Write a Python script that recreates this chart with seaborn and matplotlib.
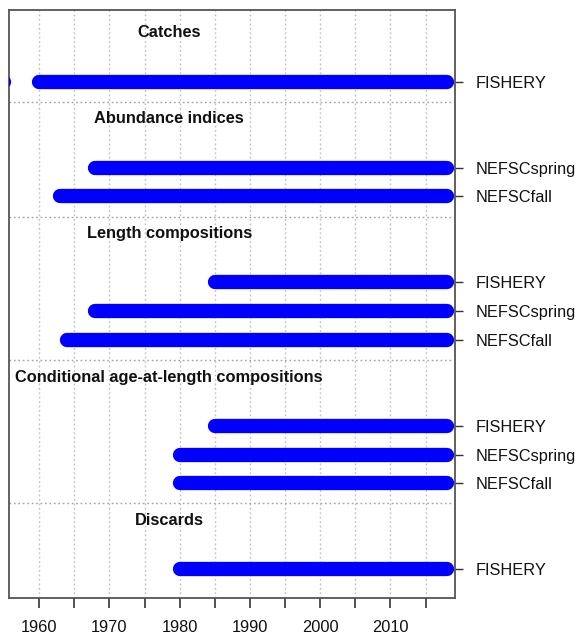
import matplotlib
matplotlib.use("Agg")
import matplotlib.pyplot as plt
import seaborn as sns
import pandas as pd
import numpy as np

# ---- data ----
sections = ["Catches", "Abundance indices", "Length compositions",
            "Conditional age-at-length compositions", "Discards"]
catch_fleets = ["FISHERY"]
catch_segments = [[(1954, 1955), (1960, 2018)]]
index_fleets = ["NEFSCspring", "NEFSCfall"]
index_segments = [[(1968, 2018)], [(1963, 2018)]]
length_fleets = ["FISHERY", "NEFSCspring", "NEFSCfall"]
length_segments = [[(1985, 2018)], [(1968, 2018)], [(1964, 2018)]]
caal_fleets = ["FISHERY", "NEFSCspring", "NEFSCfall"]
caal_segments = [[(1985, 2018)], [(1980, 2018)], [(1980, 2018)]]
discard_fleets = ["FISHERY"]
discard_segments = [[(1980, 2018)]]
tick_years = list(range(1960, 2016, 5))
tick_labels = [str(y) if y % 10 == 0 else "" for y in tick_years]

all_fleets = [catch_fleets, index_fleets, length_fleets, caal_fleets, discard_fleets]
all_segments = [catch_segments, index_segments, length_segments, caal_segments, discard_segments]

# ---- layout ----
sns.set_theme(style="white")
plt.rcParams['font.family'] = ['Liberation Sans', 'DejaVu Sans']

fig = plt.figure(figsize=(5.77, 6.37), dpi=100)
ax = fig.add_axes([9/577, 1-598/637, (455-9)/577, (598-10)/637])

rows = []
title_pos = []
sep_pos = []
fleet_pos = []
fleet_names = []
seg_id = 0
t = 0.8
for sec, fleets, segs in zip(sections, all_fleets, all_segments):
    title_pos.append(t)
    y = t + 1.7
    for name, fsegs in zip(fleets, segs):
        fleet_pos.append(y)
        fleet_names.append(name)
        for (a, b) in fsegs:
            rows.append(dict(year=a, ypos=y, seg=seg_id))
            rows.append(dict(year=b, ypos=y, seg=seg_id))
            seg_id += 1
        y += 1.0
    last = y - 1.0
    sep_pos.append(last + 0.7)
    t = last + 1.3
df = pd.DataFrame(rows)

xlim = (1955.7, 2019.2)
ylim = (fleet_pos[-1] + 1.0, 0)

# grid
for xv in tick_years:
    ax.axvline(xv, color="#bdbdbd", lw=1.0, ls=(0, (1.2, 2.0)), zorder=0)
for s in sep_pos[:-1]:
    ax.axhline(s, color="#a0a0a0", lw=1.0, ls=(0, (1.2, 2.0)), zorder=0)

sns.lineplot(data=df, x="year", y="ypos", units="seg", estimator=None,
             color="#0000ff", lw=10.3, sort=False, ax=ax, legend=False,
             solid_capstyle="round", zorder=3)

for sec, tp in zip(sections, title_pos):
    ax.text(1978.5, tp, sec, ha="center", va="center", fontsize=11.8,
            fontweight="bold", color="#111111")

ax.set_xlim(*xlim)
ax.set_ylim(*ylim)
ax.set_xticks(tick_years)
ax.set_xticklabels(tick_labels)
ax.yaxis.tick_right()
ax.set_yticks(fleet_pos)
ax.set_yticklabels(fleet_names)
ax.set_xlabel("")
ax.set_ylabel("")
ax.tick_params(axis="x", which="both", bottom=True, length=7, width=1.2,
               color="#333333", labelsize=11.8, pad=9, labelcolor="#111111")
ax.tick_params(axis="y", which="both", right=True, left=False, length=6,
               width=1.0, color="#333333", labelsize=11.8, pad=9,
               labelcolor="#111111")
for sp in ax.spines.values():
    sp.set_visible(True)
    sp.set_color("#555555")
    sp.set_linewidth(1.3)

fig.savefig("out.png", dpi=100, facecolor="white")
